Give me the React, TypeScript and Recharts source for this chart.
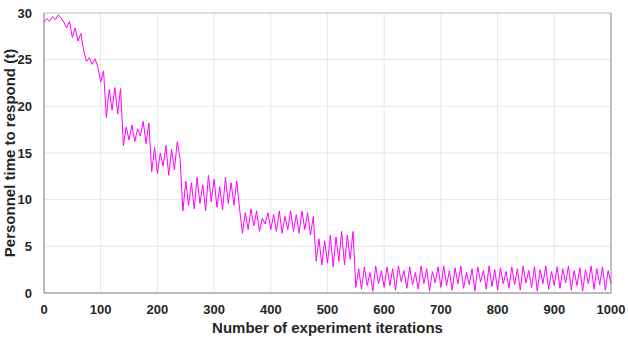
import { CartesianGrid, Line, LineChart, ReferenceLine, XAxis, YAxis } from "recharts";

// one reading every 5 iterations, 0..1000
const iterations = Array.from({ length: 201 }, (_, i) => i * 5);

const responseTime = [
  29.0, 29.4, 29.1, 29.6, 29.3, 29.8, 29.5, 29.0, 28.4, 29.1,
  27.4, 28.4, 27.0, 27.8, 26.0, 24.8, 25.2, 24.5, 25.1, 24.2,
  22.6, 23.8, 18.8, 21.8, 19.6, 22.0, 19.2, 21.9, 15.8, 17.8,
  16.4, 18.0, 16.2, 17.6, 16.8, 18.4, 16.0, 18.2, 13.0, 15.6,
  12.8, 15.0, 13.6, 15.8, 12.6, 15.4, 13.2, 16.2, 14.4, 8.8,
  12.0, 9.4, 11.8, 9.0, 12.4, 9.6, 11.6, 8.8, 12.6, 9.8,
  12.2, 9.2, 11.4, 8.9, 12.4, 9.6, 11.8, 9.4, 12.0, 9.0,
  6.4, 8.6, 6.8, 9.0, 7.2, 8.8, 6.6, 8.0, 7.4, 8.6,
  6.8, 8.4, 6.6, 8.8, 6.4, 8.2, 6.8, 8.8, 6.6, 8.4,
  6.4, 8.8, 6.8, 8.6, 6.2, 8.2, 3.4, 5.8, 3.0, 5.6,
  3.2, 6.2, 2.8, 6.0, 3.4, 6.6, 3.0, 6.2, 3.6, 6.6,
  0.6, 2.6, 0.4, 2.8, 0.8, 2.2, 0.2, 2.9, 1.0, 2.4,
  0.6, 2.8, 0.8, 2.6, 0.3, 2.9, 1.2, 2.4, 0.5, 2.8,
  0.9, 2.2, 0.4, 2.9, 1.0, 2.6, 0.2, 2.3, 1.1, 2.8,
  0.6, 2.9, 0.8, 2.4, 0.3, 2.7, 1.0, 2.9, 0.5, 2.2,
  0.9, 2.6, 0.2, 2.8, 1.2, 2.4, 0.4, 2.9, 0.7, 2.5,
  0.3, 2.7, 1.0, 2.3, 0.5, 2.8, 0.9, 2.6, 0.3, 2.9,
  1.1, 2.4, 0.6, 2.8, 0.2, 2.5, 1.0, 2.9, 0.4, 2.3,
  0.8, 2.8, 0.5, 2.6, 1.1, 2.9, 0.3, 2.4, 0.8, 2.7,
  0.2, 2.5, 1.0, 2.9, 0.4, 2.6, 0.9, 2.8, 0.3, 2.4,
  1.0,
];

const xTicks = [0, 100, 200, 300, 400, 500, 600, 700, 800, 900, 1000];
const yTicks = [0, 5, 10, 15, 20, 25, 30];

const data = iterations.map((x, i) => ({ x, t: responseTime[i] }));

const font = "Liberation Sans, Arial, sans-serif";
const tickStyle = { fill: "#262626", fontSize: 13, fontWeight: 700, fontFamily: font };
const labelStyle = { fill: "#262626", fontSize: 15, fontWeight: 700, fontFamily: font };

export default function App() {
  return (
    <div style={{ position: "absolute", left: 0, top: 0, background: "#fff" }}>
      <LineChart width={628} height={340} data={data} margin={{ top: 13, right: 17, left: 0, bottom: 0 }}>
        <CartesianGrid stroke="#e6e6e6" strokeWidth={1} />
        <XAxis
          dataKey="x"
          type="number"
          domain={[0, 1000]}
          ticks={xTicks}
          height={47}
          tick={tickStyle}
          tickLine={false}
          axisLine={{ stroke: "#808080" }}
          tickMargin={6}
          label={{ value: "Number of experiment iterations", position: "insideBottom", offset: 7, style: labelStyle }}
        />
        <YAxis
          type="number"
          domain={[0, 30]}
          ticks={yTicks}
          width={44}
          tick={tickStyle}
          tickLine={false}
          axisLine={{ stroke: "#808080" }}
          tickMargin={6}
          label={{ value: "Personnel time to respond (t)", angle: -90, position: "insideLeft", offset: 10, style: { ...labelStyle, textAnchor: "middle" } }}
        />
        <ReferenceLine y={30} stroke="#c8c8c8" ifOverflow="visible" />
        <ReferenceLine x={1000} stroke="#909090" ifOverflow="visible" />
        <Line dataKey="t" stroke="#ff00ff" strokeWidth={1} dot={false} isAnimationActive={false} />
      </LineChart>
    </div>
  );
}
